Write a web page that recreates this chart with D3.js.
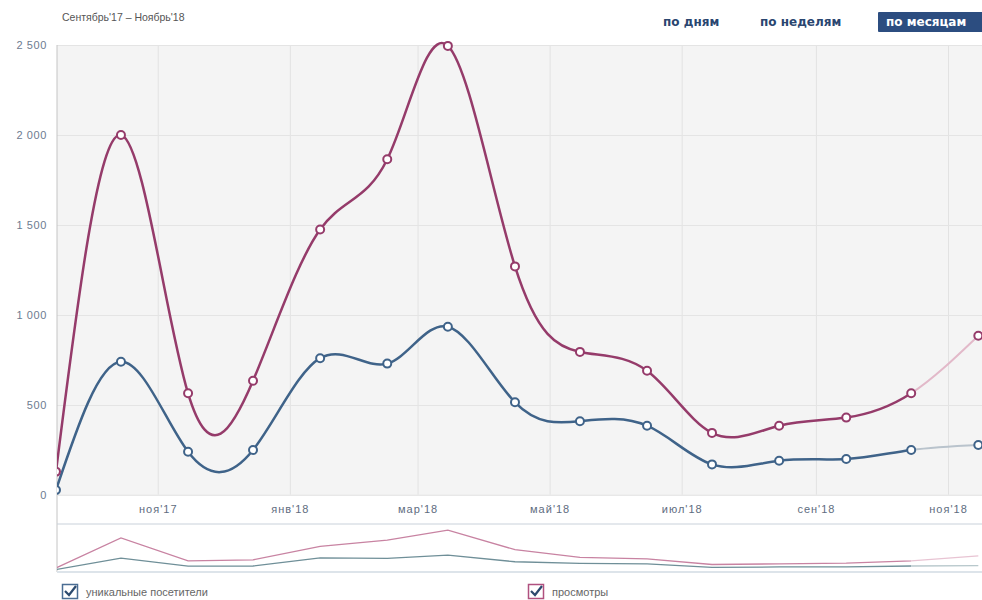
<!DOCTYPE html>
<html><head><meta charset="utf-8">
<script src="https://cdn.jsdelivr.net/npm/d3@7"></script>
<style>
html,body{margin:0;padding:0;background:#fff;overflow:hidden}
svg{display:block;font-family:"DejaVu Sans",Verdana,sans-serif}
</style></head>
<body>
<svg id="c" width="982" height="600"></svg>
<script>
// ---- data ----
const months = ["2017-09-15","2017-10-15","2017-11-15","2017-12-15","2018-01-15","2018-02-15","2018-03-15","2018-04-15","2018-05-15","2018-06-15","2018-07-15","2018-08-15","2018-09-15","2018-10-15","2018-11-15"];
const views =   [130, 2000, 565, 635, 1475, 1865, 2495, 1270, 795, 690, 345, 385, 430, 565, 885];
const visitors = [28, 740, 240, 250, 760, 730, 935, 515, 410, 385, 170, 190, 200, 250, 278];
const tickDates = ["2017-11-01","2018-01-01","2018-03-01","2018-05-01","2018-07-01","2018-09-01","2018-11-01"];
const tickLabels = ["ноя'17","янв'18","мар'18","май'18","июл'18","сен'18","ноя'18"];
const yTicks = [0, 500, 1000, 1500, 2000, 2500];
const seriesNames = ["уникальные посетители","просмотры"];
const title = "Сентябрь'17 – Ноябрь'18";
const buttons = ["по дням","по неделям","по месяцам"];

const parse = d3.utcParse("%Y-%m-%d");
const dates = months.map(parse);
const tdates = tickDates.map(parse);

const svg = d3.select("#c");
const L = 57, R = 982, T = 45, B = 495;

const x = d3.scaleUtc().domain([parse("2017-09-15"), parse("2018-11-01")]).range([56, 948]);
const y = d3.scaleLinear().domain([0, 2500]).range([B, T]);
const yn = d3.scaleLinear().domain([0, 2500]).range([570, 530]);

const defs = svg.append("defs");
defs.append("clipPath").attr("id","plot").append("rect").attr("x",L).attr("y",0).attr("width",R-L+20).attr("height",B);
const lastFull = x(dates[dates.length-2]);
defs.append("clipPath").attr("id","solid").append("rect").attr("x",L).attr("y",0).attr("width",lastFull-L).attr("height",600);
defs.append("clipPath").attr("id","faded").append("rect").attr("x",lastFull).attr("y",0).attr("width",200).attr("height",600);

// plot background
svg.append("rect").attr("x",L).attr("y",T).attr("width",R-L+10).attr("height",B-T).attr("fill","#f4f4f4");

// grid
svg.append("g").attr("transform",`translate(0,${B})`)
  .call(d3.axisBottom(x).tickValues(tdates).tickSize(-(B-T)).tickFormat(""))
  .call(g=>{g.select(".domain").remove(); g.selectAll("line").attr("stroke","#e2e2e2");});
svg.append("g").attr("transform",`translate(${L},0)`)
  .call(d3.axisLeft(y).tickValues(yTicks).tickSize(-(R-L+10)).tickFormat(""))
  .call(g=>{g.select(".domain").remove(); g.selectAll("line").attr("stroke","#e4e4e4");});

// y labels
const fmt = v => d3.format(",")(v).replace(/,/g," ");
svg.append("g").attr("transform",`translate(${L},0)`)
  .call(d3.axisLeft(y).tickValues(yTicks).tickSize(0).tickPadding(10).tickFormat(fmt))
  .call(g=>{g.select(".domain").remove();
    g.selectAll("text").attr("fill","#6d7b90").attr("font-size","11px").attr("letter-spacing","0.6px");});

// x labels
svg.append("g").attr("transform",`translate(0,${B})`)
  .call(d3.axisBottom(x).tickValues(tdates).tickSize(0).tickPadding(10).tickFormat((d,i)=>tickLabels[i]))
  .call(g=>{g.select(".domain").remove();
    g.selectAll("text").attr("fill","#5e6c80").attr("font-size","11px").attr("letter-spacing","1px");});

// axis lines
svg.append("line").attr("x1",L).attr("x2",L).attr("y1",T).attr("y2",572).attr("stroke","#c4c4c4");
svg.append("line").attr("x1",L).attr("x2",R).attr("y1",B).attr("y2",B).attr("stroke","#ebebeb");

const series = [
  {vals: visitors, dark:"#3f6389", light:"#b9c3cc", nav:"#6f8f98", navLight:"#b8c8cc"},
  {vals: views, dark:"#953b6a", light:"#e2b9c9", nav:"#c883a2", navLight:"#e8c4d3"}
];
const line = d3.line().x((d,i)=>x(dates[i])).y(d=>y(d)).curve(d3.curveNatural);
const plotG = svg.append("g").attr("clip-path","url(#plot)");
[series[1], series[0]].forEach(s=>{
  plotG.append("path").datum(s.vals).attr("d",line).attr("fill","none")
    .attr("stroke",s.light).attr("stroke-width",2).attr("clip-path","url(#faded)");
  plotG.append("path").datum(s.vals).attr("d",line).attr("fill","none")
    .attr("stroke",s.dark).attr("stroke-width",2.5).attr("clip-path","url(#solid)");
});
[series[1], series[0]].forEach(s=>{
  plotG.append("g").selectAll("circle").data(s.vals).join("circle")
    .attr("cx",(d,i)=>x(dates[i])).attr("cy",d=>y(d)).attr("r",4)
    .attr("fill","#fff").attr("stroke",s.dark).attr("stroke-width",2);
});

// navigator
svg.append("line").attr("x1",L).attr("x2",R).attr("y1",524).attr("y2",524).attr("stroke","#c9d1da");
svg.append("line").attr("x1",L).attr("x2",R).attr("y1",572).attr("y2",572).attr("stroke","#dde4ea").attr("stroke-width",2);
const nline = d3.line().x((d,i)=>x(dates[i])).y(d=>yn(d));
defs.append("clipPath").attr("id","navclip").append("rect").attr("x",L).attr("y",520).attr("width",R-L).attr("height",52);
const navG = svg.append("g").attr("clip-path","url(#navclip)");
series.forEach(s=>{
  navG.append("path").datum(s.vals).attr("d",nline).attr("fill","none").attr("stroke",s.nav).attr("stroke-width",1.3).attr("clip-path","url(#solid)");
  navG.append("path").datum(s.vals).attr("d",nline).attr("fill","none").attr("stroke",s.navLight).attr("stroke-width",1.3).attr("clip-path","url(#faded)");
});

// title
svg.append("text").attr("x",62).attr("y",21).attr("font-family","'Liberation Sans',Arial,sans-serif").attr("font-size","10.5px").attr("fill","#555").text(title);

// buttons
svg.append("rect").attr("x",878).attr("y",12).attr("width",110).attr("height",20).attr("fill","#2c4d80").attr("rx",1);
const bx = [663, 760, 886];
buttons.forEach((b,i)=>{
  svg.append("text").attr("x",bx[i]).attr("y",26).attr("font-size","12px").attr("font-weight","bold")
    .attr("fill", i===2 ? "#fff" : "#2a4670").text(b);
});

// legend
const lx = [62, 528];
const lcol = ["#4a6d93","#b0517f"];
seriesNames.forEach((n,i)=>{
  const g = svg.append("g").attr("transform",`translate(${lx[i]},584)`);
  g.append("rect").attr("x",0.5).attr("y",0.5).attr("width",15).attr("height",14).attr("fill","#fff").attr("stroke",lcol[i]).attr("stroke-width",1.5);
  g.append("path").attr("d","M3,7 L7,11 L14,2").attr("fill","none").attr("stroke","#2c4a6e").attr("stroke-width",2.2);
  g.append("text").attr("x",24).attr("y",12).attr("font-family","'Liberation Sans',Arial,sans-serif").attr("font-size","11px").attr("fill","#666").text(n);
});
</script>
</body></html>
